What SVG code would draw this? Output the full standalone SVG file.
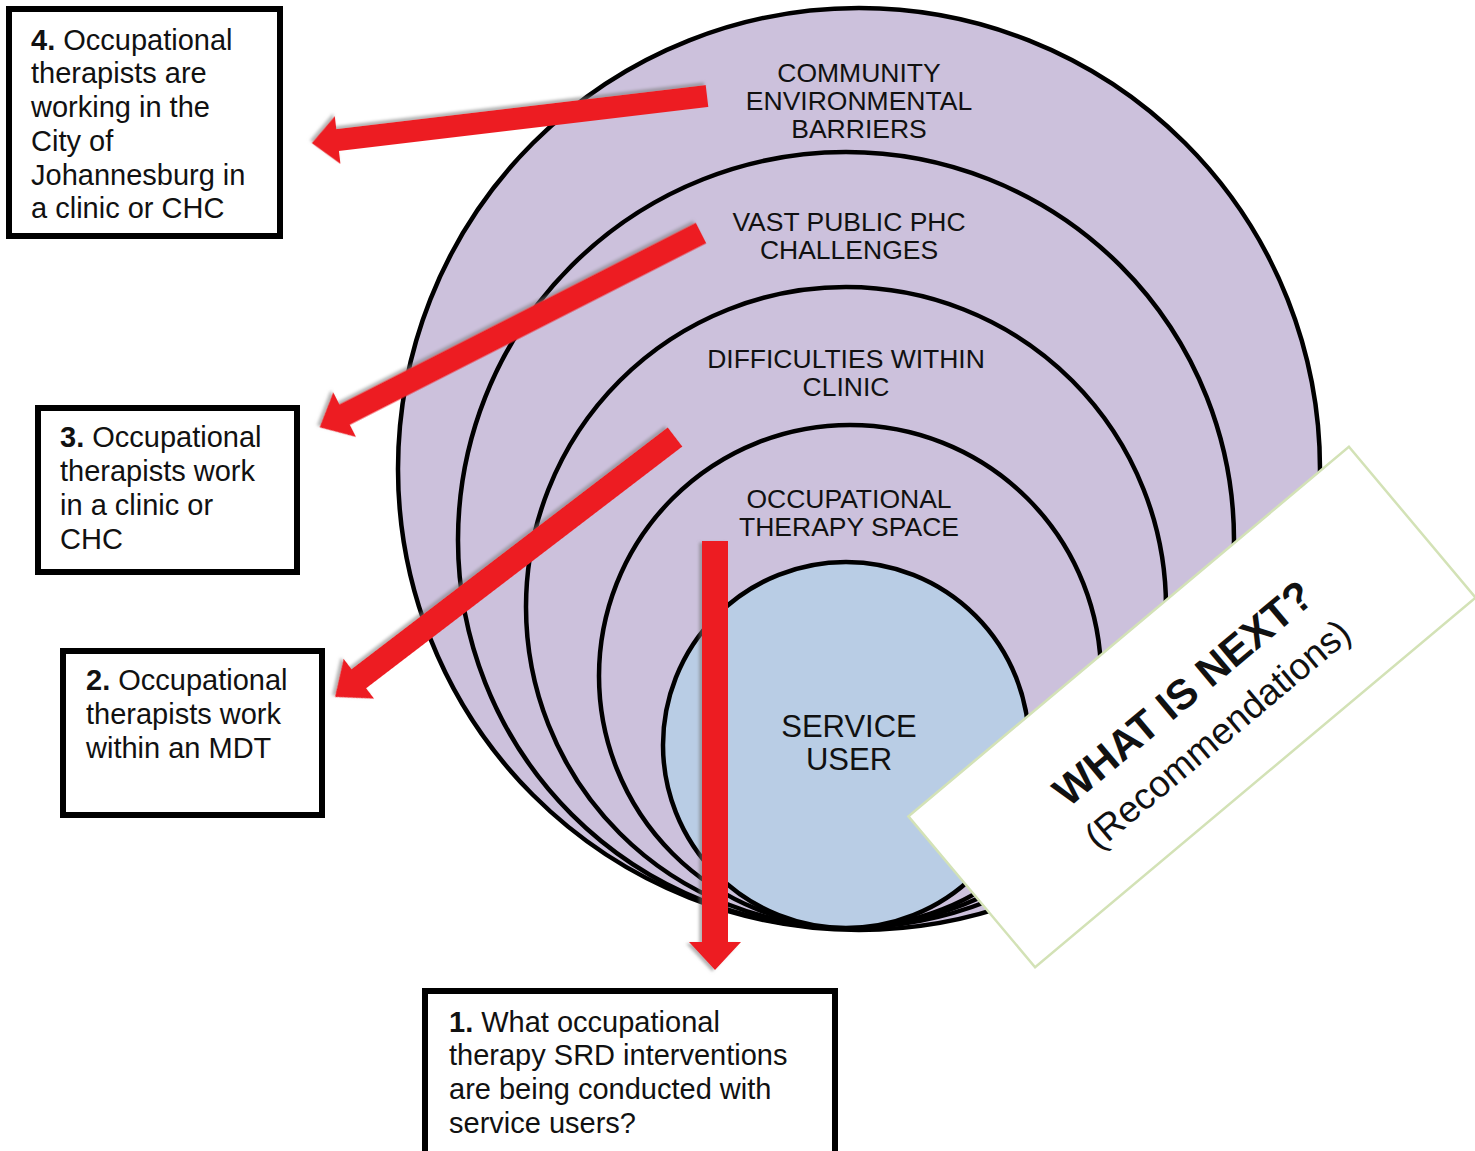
<svg xmlns="http://www.w3.org/2000/svg" width="1475" height="1151" viewBox="0 0 1475 1151">
<style>
.ring{fill:#ccc1dc;stroke:#000;stroke-width:4.5}
.core{fill:#b9cde5;stroke:#000;stroke-width:4.5}
.lbl{font-family:"Liberation Sans",Arial,sans-serif;font-size:26.5px;fill:#111;text-anchor:middle}
.su{font-family:"Liberation Sans",Arial,sans-serif;font-size:31px;fill:#111;text-anchor:middle}
.box{fill:#fff;stroke:#000;stroke-width:6}
.bt{font-family:"Liberation Sans",Arial,sans-serif;font-size:29px;fill:#111}
.arrow{fill:#ed1c24;filter:url(#sh)}
.next{fill:#fff;stroke:#d3e2b6;stroke-width:2.5}
.nt{font-family:"Liberation Sans",Arial,sans-serif;fill:#111;text-anchor:middle}
</style>
<defs>
<filter id="sh" x="-10%" y="-10%" width="120%" height="130%">
<feDropShadow dx="1.5" dy="3" stdDeviation="1.5" flood-color="#777" flood-opacity="0.55"/>
</filter>
</defs>
<rect width="1475" height="1151" fill="#fff"/>
<g id="circles">
<g id="community"><circle class="ring" cx="859" cy="469" r="461"/></g>
<g id="phc"><circle class="ring" cx="846" cy="540" r="388"/></g>
<g id="clinic"><circle class="ring" cx="846" cy="607" r="320"/></g>
<g id="otspace"><circle class="ring" cx="850" cy="676" r="251"/></g>
<g id="serviceuser"><circle class="core" cx="846" cy="745" r="183"/></g>
</g>
<g id="labels">
<text class="lbl" x="859" y="82">COMMUNITY</text>
<text class="lbl" x="859" y="110">ENVIRONMENTAL</text>
<text class="lbl" x="859" y="138">BARRIERS</text>
<text class="lbl" x="849" y="231">VAST PUBLIC PHC</text>
<text class="lbl" x="849" y="259">CHALLENGES</text>
<text class="lbl" x="846" y="368">DIFFICULTIES WITHIN</text>
<text class="lbl" x="846" y="396">CLINIC</text>
<text class="lbl" x="849" y="508">OCCUPATIONAL</text>
<text class="lbl" x="849" y="536">THERAPY SPACE</text>
<text class="su" x="849" y="737">SERVICE</text>
<text class="su" x="849" y="770">USER</text>
</g>
<g id="whatnext" transform="translate(1192,707) rotate(-40)">
<rect class="next" x="-287.5" y="-98.5" width="575" height="197"/>
<text class="nt" x="2" y="-2" font-size="42" font-weight="bold">WHAT IS NEXT?</text>
<text class="nt" x="2" y="50" font-size="37">(Recommendations)</text>
</g>
<g id="connectors">
<polygon class="arrow" transform="translate(707,96) rotate(173.2)" points="0,-11 372,-11 372,-24 398,0 372,24 372,11 0,11"/>
<polygon class="arrow" transform="translate(701,233) rotate(153)" points="0,-11.5 400,-11.5 400,-25 428,0 400,25 400,11.5 0,11.5"/>
<polygon class="arrow" transform="translate(675,437) rotate(142.6)" points="0,-12 398,-12 398,-25 428,0 398,25 398,12 0,12"/>
<polygon class="arrow" transform="translate(715,541) rotate(90)" points="0,-13 401,-13 401,-26 429,0 401,26 401,13 0,13"/>
</g>
<g id="box4">
<rect class="box" x="9" y="9" width="271" height="227"/>
<text class="bt" x="31" y="50"><tspan font-weight="bold">4.</tspan> Occupational</text>
<text class="bt" x="31" y="83">therapists are</text>
<text class="bt" x="31" y="117">working in the</text>
<text class="bt" x="31" y="151">City of</text>
<text class="bt" x="31" y="185">Johannesburg in</text>
<text class="bt" x="31" y="218">a clinic or CHC</text>
</g>
<g id="box3">
<rect class="box" x="38" y="408" width="259" height="164"/>
<text class="bt" x="60" y="447"><tspan font-weight="bold">3.</tspan> Occupational</text>
<text class="bt" x="60" y="481">therapists work</text>
<text class="bt" x="60" y="515">in a clinic or</text>
<text class="bt" x="60" y="549">CHC</text>
</g>
<g id="box2">
<rect class="box" x="63" y="651" width="259" height="164"/>
<text class="bt" x="86" y="690"><tspan font-weight="bold">2.</tspan> Occupational</text>
<text class="bt" x="86" y="724">therapists work</text>
<text class="bt" x="86" y="758">within an MDT</text>
</g>
<g id="box1">
<rect class="box" x="425" y="991" width="410" height="175"/>
<text class="bt" x="449" y="1032"><tspan font-weight="bold">1.</tspan> What occupational</text>
<text class="bt" x="449" y="1065">therapy SRD interventions</text>
<text class="bt" x="449" y="1099">are being conducted with</text>
<text class="bt" x="449" y="1133">service users?</text>
</g>
</svg>
